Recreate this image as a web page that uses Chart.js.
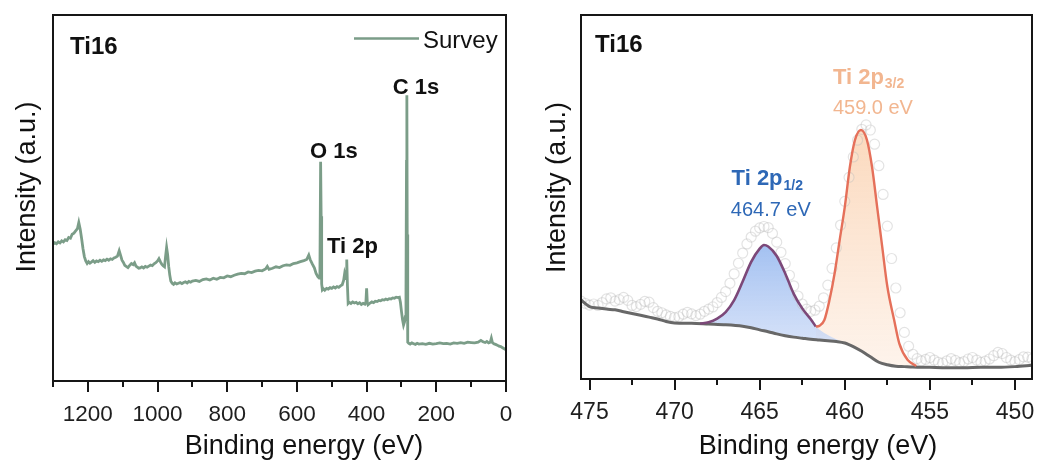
<!DOCTYPE html>
<html>
<head>
<meta charset="utf-8">
<title>XPS Ti16</title>
<script src="https://cdn.jsdelivr.net/npm/chart.js@4/dist/chart.umd.min.js"></script>
<style>
  html, body { margin: 0; padding: 0; background: #fff; }
  #wrap { position: relative; width: 1039px; height: 464px; overflow: hidden; }
  #survey { position: absolute; left: 0; top: 0; }
  #ti2p { position: absolute; left: 520px; top: 0; }
</style>
</head>
<body>
<div id="wrap">
  <canvas id="survey" width="520" height="464"></canvas>
  <canvas id="ti2p" width="519" height="464"></canvas>
</div>
<script>
const FONT = '"Liberation Sans", Arial, Helvetica, sans-serif';
const INK = '#161616';
const SURVEY_GREEN = '#7b9d88';

// ---- survey spectrum (binding energy in eV, intensity in a.u.) ----
const surveyEnergy = [
  1300, 1295, 1290, 1285, 1280, 1275, 1270, 1265, 1260, 1255,
  1250, 1245, 1240, 1235, 1230, 1226, 1222, 1218, 1214, 1210,
  1206, 1202, 1198, 1194, 1190, 1185, 1180, 1175, 1170, 1165,
  1160, 1155, 1150, 1145, 1140, 1135, 1130, 1125, 1120, 1115,
  1110, 1106, 1102, 1098, 1094, 1090, 1085, 1080, 1075, 1070,
  1066, 1062, 1058, 1054, 1050, 1045, 1040, 1035, 1030, 1025,
  1020, 1015, 1010, 1005, 1000, 996, 992, 988, 984, 980,
  977, 974, 971, 968, 965, 962, 958, 954, 950, 945,
  940, 935, 930, 925, 920, 915, 910, 905, 900, 890,
  880, 870, 860, 850, 840, 830, 820, 810, 800, 790,
  780, 770, 760, 750, 740, 730, 720, 710, 700, 690,
  685, 680, 670, 660, 650, 640, 630, 620, 610, 600,
  590, 580, 572, 566, 562, 556, 550, 545, 540, 536,
  534, 532, 530.5, 529, 527, 524, 520, 515, 510, 505,
  500, 495, 490, 485, 480, 475, 470, 466, 463, 459,
  457, 455, 453, 450, 445, 440, 435, 430, 425, 420,
  415, 410, 405, 402, 400, 398, 396, 390, 385, 380,
  375, 370, 365, 360, 355, 350, 345, 340, 335, 330,
  325, 320, 315, 310, 306, 303, 300, 297, 294, 291,
  289, 287, 285.5, 284.5, 283.5, 282, 279, 275, 270, 265,
  260, 255, 250, 240, 230, 220, 210, 200, 190, 180,
  170, 160, 150, 140, 130, 120, 110, 100, 90, 80,
  72, 66, 60, 55, 50, 45, 42, 39, 35, 30,
  25, 20, 15, 10, 5, 0
];
const surveyIntensity = [
  37.4, 37.8, 37.5, 38.0, 37.7, 38.3, 38.0, 38.6, 38.4, 39.2,
  39.0, 40.1, 40.4, 41.0, 41.6, 43.3, 41.5, 39.0, 36.2, 34.0,
  32.8, 32.1, 32.6, 32.2, 32.5, 32.9, 32.4, 32.8, 32.6, 33.0,
  32.7, 33.1, 32.9, 33.3, 33.0, 33.4, 33.2, 33.6, 33.8, 34.1,
  35.6, 34.3, 33.0, 32.4, 31.6, 31.3, 31.0, 31.6, 32.1, 31.8,
  32.3, 31.4, 31.1, 30.8, 30.9, 31.2, 30.9, 31.3, 31.1, 31.4,
  31.7, 31.5, 32.0, 32.3, 32.8, 33.4, 32.6, 31.9, 31.5, 31.2,
  34.0, 36.5, 34.5, 31.3, 29.0, 27.3, 26.7, 26.4, 26.8, 26.5,
  26.7, 26.9, 26.6, 26.9, 27.1, 26.8, 27.2, 27.0, 27.3, 27.5,
  27.2, 27.7, 27.9, 27.6, 28.1, 27.8, 28.3, 28.2, 28.7, 28.5,
  28.9, 29.2, 29.4, 29.3, 29.8, 29.6, 30.0, 30.2, 30.1, 30.6,
  31.3, 30.5, 30.8, 31.2, 31.0, 31.5, 31.7, 31.6, 32.1, 32.3,
  32.6, 32.9, 33.2, 34.4, 33.2, 32.0, 30.9, 29.4, 28.5, 28.1,
  29.5, 59.9, 45.0, 26.5, 24.9, 25.2, 24.8, 25.3, 25.1, 25.5,
  25.3, 25.7, 25.4, 25.8, 25.6, 26.0, 26.3, 27.5, 29.4, 28.0,
  33.2, 26.0, 21.2, 21.5, 21.2, 21.6, 21.3, 21.5, 21.1, 21.4,
  20.9, 21.2, 21.0, 21.6, 25.3, 21.4, 20.8, 21.3, 21.6, 21.4,
  21.8, 21.7, 22.0, 21.9, 22.2, 22.1, 22.4, 22.2, 22.5, 22.4,
  22.7, 22.6, 22.9, 22.8, 22.9, 21.5, 19.0, 16.8, 15.3, 16.2,
  17.6, 25.0, 60.0, 78.1, 40.0, 10.6, 10.3, 10.1, 10.4, 10.2,
  10.0, 10.3, 10.1, 10.2, 10.0, 10.3, 10.1, 10.2, 10.4, 10.2,
  10.3, 10.1, 10.4, 10.3, 10.5, 10.3, 10.6, 10.5, 10.4, 10.6,
  11.1, 10.7, 10.5, 10.8, 10.4, 10.6, 11.7, 10.5, 10.2, 10.0,
  9.8, 9.5, 9.4, 9.1, 8.8, 8.5
];

// ---- Ti 2p high resolution: raw counts ----
const rawEnergy = [
  475.5, 475.25, 475.0, 474.75, 474.5, 474.25, 474.0, 473.75, 473.5, 473.25,
  473.0, 472.75, 472.5, 472.25, 472.0, 471.75, 471.5, 471.25, 471.0, 470.75,
  470.5, 470.25, 470.0, 469.75, 469.5, 469.25, 469.0, 468.75, 468.5, 468.25,
  468.0, 467.75, 467.5, 467.25, 467.0, 466.75, 466.5, 466.25, 466.0, 465.75,
  465.5, 465.25, 465.0, 464.75, 464.5, 464.25, 464.0, 463.75, 463.5, 463.25,
  463.0, 462.75, 462.5, 462.25, 462.0, 461.75, 461.5, 461.25, 461.0, 460.75,
  460.5, 460.25, 460.0, 459.75, 459.5, 459.25, 459.0, 458.75, 458.5, 458.25,
  458.0, 457.75, 457.5, 457.25, 457.0, 456.75, 456.5, 456.25, 456.0, 455.75,
  455.5, 455.25, 455.0, 454.75, 454.5, 454.25, 454.0, 453.75, 453.5, 453.25,
  453.0, 452.75, 452.5, 452.25, 452.0, 451.75, 451.5, 451.25, 451.0, 450.75,
  450.5, 450.25, 450.0, 449.75, 449.5, 449.25, 449.0
];
const rawIntensity = [
  21.4, 20.8, 20.3, 20.6, 20.2, 21.0, 22.0, 22.3, 21.4, 21.8,
  22.4, 21.6, 20.2, 19.9, 20.5, 21.3, 21.1, 19.6, 18.6, 18.2,
  17.6, 17.2, 16.9, 17.1, 17.8, 18.3, 17.9, 17.4, 17.8, 18.6,
  19.2, 19.8, 21.0, 22.4, 24.0, 26.3, 28.9, 31.8, 34.6, 37.1,
  39.0, 40.6, 41.5, 41.9, 41.6, 40.0, 37.6, 34.8, 31.7, 28.5,
  25.6, 22.8, 20.6, 19.2, 18.6, 18.9, 20.0, 22.3, 25.8, 30.4,
  36.0, 42.3, 48.8, 55.4, 61.0, 65.6, 68.6, 69.8, 68.4, 64.5,
  58.6, 50.7, 42.0, 33.1, 25.0, 18.2, 12.8, 9.0, 6.8, 5.6,
  5.0, 5.4, 5.9, 5.2, 4.6, 4.4, 5.0, 5.6, 5.1, 4.5,
  4.8, 5.5, 5.9, 5.2, 4.6, 4.9, 5.5, 6.4, 7.3, 7.0,
  5.9, 5.2, 4.8, 5.3, 6.1, 6.0, 5.5
];

// Shirley-type background
const bgEnergy = [
  475.5, 475.0, 474.5, 474.0, 473.5, 473.0, 472.5, 472.0, 471.5, 471.0,
  470.5, 470.0, 469.0, 468.0, 467.0, 466.0, 465.5, 465.0, 464.5, 464.0,
  463.5, 463.0, 462.5, 462.0, 461.5, 461.0, 460.5, 460.0, 459.5, 459.0,
  458.5, 458.0, 457.5, 457.0, 456.5, 456.0, 455.0, 454.0, 453.0, 452.0,
  451.0, 450.0, 449.0
];
const bgIntensity = [
  21.7, 19.9, 19.5, 19.2, 19.0, 18.5, 18.0, 17.5, 17.0, 16.5,
  15.8, 15.4, 15.3, 15.1, 14.9, 14.5, 14.1, 13.5, 13.0, 12.4,
  11.9, 11.5, 11.2, 10.9, 10.7, 10.5, 10.3, 9.9, 8.9, 7.6,
  6.1, 4.6, 3.9, 3.5, 3.4, 3.3, 3.2, 3.1, 3.1, 3.2,
  3.2, 3.4, 3.8
];

// Ti 2p1/2 component (on background)
const p12Energy = [468.5, 468.0, 467.5, 467.0, 466.5, 466.0, 465.5, 465.0, 464.75, 464.5,
                   464.0, 463.5, 463.0, 462.5, 462.0, 461.5, 461.0, 460.5, 460.0];
const p12Intensity = [15.2, 15.6, 16.6, 18.4, 21.7, 26.8, 32.2, 35.8, 36.8, 36.4,
                      33.8, 29.0, 23.4, 19.2, 16.0, 13.6, 12.1, 10.9, 9.9];

// envelope over the 2p1/2 region
const envEnergy = [468.5, 468.0, 467.5, 467.0, 466.5, 466.0, 465.5, 465.0, 464.75, 464.5,
                   464.0, 463.5, 463.0, 462.5, 462.0, 461.7];
const envIntensity = [15.2, 15.6, 16.6, 18.4, 21.7, 26.8, 32.2, 35.8, 36.8, 36.4,
                      33.8, 29.0, 23.4, 19.4, 16.4, 14.4];

// Ti 2p3/2 component (on background)
const p32Energy = [461.7, 461.5, 461.2, 460.9, 460.6, 460.3, 460.0, 459.7, 459.4, 459.05,
                   458.7, 458.4, 458.1, 457.8, 457.5, 457.1, 456.8, 456.3, 455.8];
const p32Intensity = [14.4, 14.6, 16.2, 21.7, 29.0, 38.2, 47.3, 58.3, 65.7, 68.4,
                      65.7, 58.3, 47.3, 36.3, 25.4, 16.2, 9.8, 5.2, 3.6];

// ---- axis ticks ----
const surveyMajorTicks = [0, 200, 400, 600, 800, 1000, 1200];
const surveyMinorTicks = [100, 300, 500, 700, 900, 1100, 1300];
const ti2pMajorTicks = [450, 455, 460, 465, 470, 475];
const ti2pMinorTicks = [452.5, 457.5, 462.5, 467.5, 472.5];

function pairs(xs, ys) {
  return xs.map((x, i) => ({ x: x, y: ys[i] }));
}

function vGradient(chart, topVal, botVal, c1, c2) {
  const { ctx, chartArea, scales } = chart;
  if (!chartArea) return c2;
  const g = ctx.createLinearGradient(0, scales.y.getPixelForValue(topVal), 0, scales.y.getPixelForValue(botVal));
  g.addColorStop(0, c1);
  g.addColorStop(1, c2);
  return g;
}

// frame, tick marks, axis titles and annotations
function panelDecor(cfg) {
  return {
    id: 'panelDecor',
    afterDraw(chart) {
      const { ctx, chartArea: a, scales } = chart;
      const xs = scales.x, ys = scales.y;
      ctx.save();
      ctx.strokeStyle = INK;
      ctx.lineWidth = 2;
      ctx.strokeRect(a.left, a.top, a.right - a.left, a.bottom - a.top);

      const tick = (v, len) => {
        const px = Math.round(xs.getPixelForValue(v));
        ctx.beginPath();
        ctx.moveTo(px, a.bottom);
        ctx.lineTo(px, a.bottom + len);
        ctx.stroke();
      };
      cfg.major.forEach(v => tick(v, 11));
      cfg.minor.forEach(v => tick(v, 6));

      ctx.fillStyle = '#111';
      ctx.textBaseline = 'middle';
      ctx.textAlign = 'center';
      ctx.font = '27px ' + FONT;
      ctx.fillText(cfg.xTitle, cfg.xTitlePos[0], cfg.xTitlePos[1]);
      ctx.save();
      ctx.translate(cfg.yTitlePos[0], cfg.yTitlePos[1]);
      ctx.rotate(-Math.PI / 2);
      ctx.fillText(cfg.yTitle, 0, 0);
      ctx.restore();

      ctx.textAlign = 'left';
      ctx.font = 'bold 24px ' + FONT;
      ctx.fillText(cfg.tag, cfg.tagPos[0], cfg.tagPos[1]);

      if (cfg.legend) {
        const lg = cfg.legend;
        ctx.strokeStyle = lg.color;
        ctx.lineWidth = 2.6;
        ctx.beginPath();
        ctx.moveTo(lg.x0, lg.y);
        ctx.lineTo(lg.x1, lg.y);
        ctx.stroke();
        ctx.fillStyle = '#111';
        ctx.font = '24px ' + FONT;
        ctx.fillText(lg.text, lg.x1 + 4, lg.y + 2.5);
      }

      cfg.labels.forEach(l => {
        const px = xs.getPixelForValue(l.x);
        const py = ys.getPixelForValue(l.y);
        ctx.fillStyle = l.color;
        ctx.font = l.font;
        ctx.textAlign = l.align || 'left';
        ctx.fillText(l.text, px, py);
        if (l.sub) {
          const w = ctx.measureText(l.text).width;
          ctx.font = l.subFont;
          ctx.textAlign = 'left';
          ctx.fillText(l.sub, px + w + 1, py + 7);
        }
      });
      ctx.restore();
    }
  };
}

function xAxis(min, max, majors, height, size) {
  return {
    type: 'linear', min: min, max: max, reverse: true,
    afterBuildTicks: s => { s.ticks = majors.map(v => ({ value: v })); },
    afterFit: s => { s.height = height; },
    grid: { display: false, drawTicks: false },
    border: { display: false },
    ticks: {
      autoSkip: false, maxRotation: 0, minRotation: 0, padding: 20,
      color: '#1e1e1e', font: { family: FONT, size: size },
      callback: v => String(v)
    }
  };
}

// ---- left: survey ----
new Chart(document.getElementById('survey'), {
  type: 'line',
  data: {
    datasets: [{
      label: 'Survey',
      data: pairs(surveyEnergy, surveyIntensity),
      borderColor: SURVEY_GREEN,
      borderWidth: 2.8,
      pointRadius: 0,
      tension: 0,
      fill: false
    }]
  },
  options: {
    responsive: false,
    animation: false,
    events: [],
    layout: { padding: { left: 53, right: 14, top: 15, bottom: 0 } },
    plugins: { legend: { display: false }, tooltip: { enabled: false } },
    scales: {
      x: xAxis(0, 1300, surveyMajorTicks, 83, 22.5),
      y: { display: false, min: 0, max: 100 }
    }
  },
  plugins: [panelDecor({
    major: surveyMajorTicks, minor: surveyMinorTicks,
    xTitle: 'Binding energy (eV)', xTitlePos: [304, 447],
    yTitle: 'Intensity (a.u.)', yTitlePos: [28, 187],
    tag: 'Ti16', tagPos: [70, 47.5],
    legend: { text: 'Survey', color: SURVEY_GREEN, x0: 354, x1: 419, y: 38.5 },
    labels: [
      { text: 'C 1s', x: 258, y: 80.2, align: 'center', font: 'bold 22px ' + FONT, color: '#111' },
      { text: 'O 1s', x: 494, y: 62.6, align: 'center', font: 'bold 22px ' + FONT, color: '#111' },
      { text: 'Ti 2p', x: 514, y: 36.5, align: 'left', font: 'bold 22px ' + FONT, color: '#111' }
    ]
  })]
});

// ---- right: Ti 2p ----
new Chart(document.getElementById('ti2p'), {
  type: 'line',
  data: {
    datasets: [
      {
        label: 'Background',
        data: pairs(bgEnergy, bgIntensity),
        borderColor: '#686868', borderWidth: 3, pointRadius: 0,
        cubicInterpolationMode: 'monotone', fill: false, order: 3
      },
      {
        label: 'Ti 2p1/2',
        data: pairs(p12Energy, p12Intensity),
        borderWidth: 0, pointRadius: 0, cubicInterpolationMode: 'monotone',
        backgroundColor: c => vGradient(c.chart, 37, 10, 'rgba(150,184,239,0.88)', 'rgba(203,218,247,0.8)'),
        fill: 0, order: 6
      },
      {
        label: 'Ti 2p3/2 area',
        data: pairs(p32Energy, p32Intensity),
        borderWidth: 0, pointRadius: 0, cubicInterpolationMode: 'monotone',
        backgroundColor: c => vGradient(c.chart, 68, 4, 'rgba(251,214,184,0.92)', 'rgba(253,239,228,0.75)'),
        fill: 0, order: 7
      },
      {
        label: 'Ti 2p3/2',
        data: pairs(p32Energy, p32Intensity),
        borderColor: '#e5705a', borderWidth: 2.4, pointRadius: 0,
        cubicInterpolationMode: 'monotone', fill: false, order: 1
      },
      {
        label: 'Envelope',
        data: pairs(envEnergy, envIntensity),
        borderColor: '#7c4879', borderWidth: 2.6, pointRadius: 0,
        cubicInterpolationMode: 'monotone', fill: false, order: 2
      },
      {
        label: 'Raw',
        data: pairs(rawEnergy, rawIntensity),
        showLine: false, pointRadius: 5, pointBorderWidth: 1.2,
        pointBorderColor: 'rgba(185,185,185,0.4)',
        pointBackgroundColor: 'rgba(255,255,255,0.1)',
        order: 4
      }
    ]
  },
  options: {
    responsive: false,
    animation: false,
    events: [],
    layout: { padding: { left: 61, right: 7, top: 15, bottom: 0 } },
    plugins: { legend: { display: false }, tooltip: { enabled: false } },
    scales: {
      x: xAxis(449, 475.5, ti2pMajorTicks, 85, 23),
      y: { display: false, min: 0, max: 100 }
    }
  },
  plugins: [panelDecor({
    major: ti2pMajorTicks, minor: ti2pMinorTicks,
    xTitle: 'Binding energy (eV)', xTitlePos: [298, 447],
    yTitle: 'Intensity (a.u.)', yTitlePos: [37.5, 187.5],
    tag: 'Ti16', tagPos: [75, 45],
    labels: [
      { text: 'Ti 2p', sub: '3/2', x: 460.7, y: 82.8, font: 'bold 22px ' + FONT, subFont: 'bold 14px ' + FONT, color: '#f2b690' },
      { text: '459.0 eV', x: 460.7, y: 74.4, font: '20px ' + FONT, color: '#f2b690' },
      { text: 'Ti 2p', sub: '1/2', x: 466.65, y: 54.9, font: 'bold 22px ' + FONT, subFont: 'bold 14px ' + FONT, color: '#2e68b6' },
      { text: '464.7 eV', x: 466.7, y: 46.4, font: '20px ' + FONT, color: '#2e68b6' }
    ]
  })]
});
</script>
</body>
</html>
